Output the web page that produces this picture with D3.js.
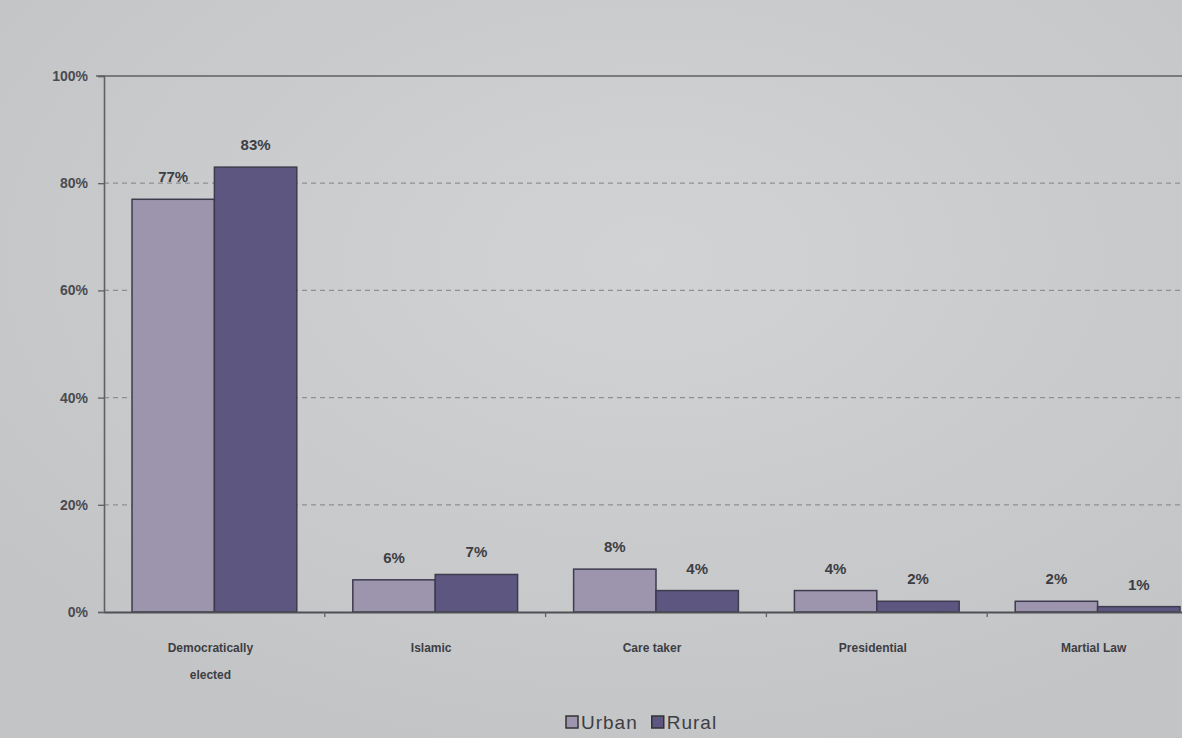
<!DOCTYPE html>
<html><head><meta charset="utf-8">
<script src="https://cdn.jsdelivr.net/npm/d3@7"></script>
<style>
html,body{margin:0;padding:0;background:#c8c9cb;}
svg{display:block;}
</style></head>
<body><svg id="c" width="1182" height="738"></svg>
<script>
const categories = ["Democratically elected", "Islamic", "Care taker", "Presidential", "Martial Law"];
const categoryLines = [["Democratically", "elected"], ["Islamic"], ["Care taker"], ["Presidential"], ["Martial Law"]];
const seriesNames = ["Urban", "Rural"];
const urban = [77, 6, 8, 4, 2];
const rural = [83, 7, 4, 2, 1];
const yTicks = [0, 20, 40, 60, 80, 100];
const colors = {Urban: "#9d94ae", Rural: "#5d5680"};

const svg = d3.select("#c");
const m = {left: 104, top: 76, bottom: 612, right: 1208};

const defs = svg.append("defs");
const rg = defs.append("radialGradient").attr("id","bg").attr("cx","55%").attr("cy","35%").attr("r","70%");
rg.append("stop").attr("offset","0%").attr("stop-color","#d2d3d5");
rg.append("stop").attr("offset","100%").attr("stop-color","#c3c4c6");
svg.append("rect").attr("width",1182).attr("height",738).attr("fill","url(#bg)");

const x0 = d3.scaleBand().domain(categories).range([m.left, m.right]).paddingInner(0).paddingOuter(0);
const x1 = d3.scaleBand().domain(seriesNames).range([0, x0.bandwidth()]).paddingInner(0).paddingOuter(0.34);
const y = d3.scaleLinear().domain([0, 100]).range([m.bottom, m.top]);

svg.append("g").selectAll("line").data(yTicks.filter(t => t > 0 && t < 100)).join("line")
  .attr("x1", m.left).attr("x2", 1182)
  .attr("y1", d => y(d)).attr("y2", d => y(d))
  .attr("stroke", "#8f9094").attr("stroke-width", 1.3).attr("stroke-dasharray", "5,4");
svg.append("line").attr("x1", m.left - 8).attr("x2", 1182).attr("y1", y(100)).attr("y2", y(100))
  .attr("stroke", "#5f6064").attr("stroke-width", 1.6);

const yAxis = d3.axisLeft(y).tickValues(yTicks).tickFormat(d => d + "%").tickSize(6).tickPadding(10);
const ga = svg.append("g").attr("transform", `translate(${m.left},0)`).call(yAxis);
ga.select(".domain").attr("stroke", "#5f6064").attr("stroke-width", 1.6);
ga.selectAll(".tick line").attr("stroke", "#5f6064").attr("stroke-width", 1.3);
ga.selectAll("text").attr("font-family", "Liberation Sans, Arial, sans-serif").attr("font-size", 14)
  .attr("font-weight", "bold").attr("fill", "#4a4b50");

const data = categories.map((c, i) => ({c, vals: [{s: "Urban", v: urban[i]}, {s: "Rural", v: rural[i]}]}));
const groups = svg.append("g").selectAll("g").data(data).join("g")
  .attr("transform", d => `translate(${x0(d.c)},0)`);
groups.selectAll("rect").data(d => d.vals).join("rect")
  .attr("x", d => x1(d.s)).attr("width", x1.bandwidth())
  .attr("y", d => y(d.v)).attr("height", d => y(0) - y(d.v))
  .attr("fill", d => colors[d.s]).attr("stroke", "#3e3b4e").attr("stroke-width", 1.5);
groups.selectAll("text").data(d => d.vals).join("text")
  .attr("x", d => x1(d.s) + x1.bandwidth() / 2).attr("y", d => y(d.v) - 17)
  .attr("text-anchor", "middle").attr("font-family", "Liberation Sans, Arial, sans-serif")
  .attr("font-size", 15).attr("font-weight", "bold").attr("fill", "#3d3e44")
  .text(d => d.v + "%");

const xAxis = d3.axisBottom(x0).tickSize(0).tickFormat("");
const gx = svg.append("g").attr("transform", `translate(0,${m.bottom})`).call(xAxis);
gx.select(".domain").attr("stroke", "#4f5055").attr("stroke-width", 1.8);
svg.append("g").selectAll("line").data(categories.slice(1)).join("line")
  .attr("x1", d => x0(d)).attr("x2", d => x0(d)).attr("y1", m.bottom).attr("y2", m.bottom + 5)
  .attr("stroke", "#5f6064").attr("stroke-width", 1.3);
svg.append("g").selectAll("text").data(categories).join("text")
  .attr("x", d => x0(d) + x0.bandwidth() / 2 - 4).attr("y", m.bottom + 40)
  .attr("text-anchor", "middle").attr("font-family", "Liberation Sans, Arial, sans-serif")
  .attr("font-size", 12).attr("font-weight", "bold").attr("fill", "#3d3e44")
  .each(function(d, i) {
    const t = d3.select(this);
    categoryLines[i].forEach((ln, k) => t.append("tspan").attr("x", x0(d) + x0.bandwidth() / 2 - 4).attr("dy", k === 0 ? 0 : 27).text(ln));
  });

const lg = svg.append("g").attr("transform", "translate(566,729)");
let lx = 0;
seriesNames.forEach(s => {
  lg.append("rect").attr("x", lx).attr("y", -13).attr("width", 12).attr("height", 12)
    .attr("fill", colors[s]).attr("stroke", "#333").attr("stroke-width", 1.5);
  const t = lg.append("text").attr("x", lx + 15).attr("y", 0).attr("font-family", "Liberation Sans, Arial, sans-serif")
    .attr("font-size", 19).attr("letter-spacing", 1).attr("fill", "#3d3e44").text(s);
  lx += 15 + t.node().getComputedTextLength() + 14;
});
</script></body></html>
